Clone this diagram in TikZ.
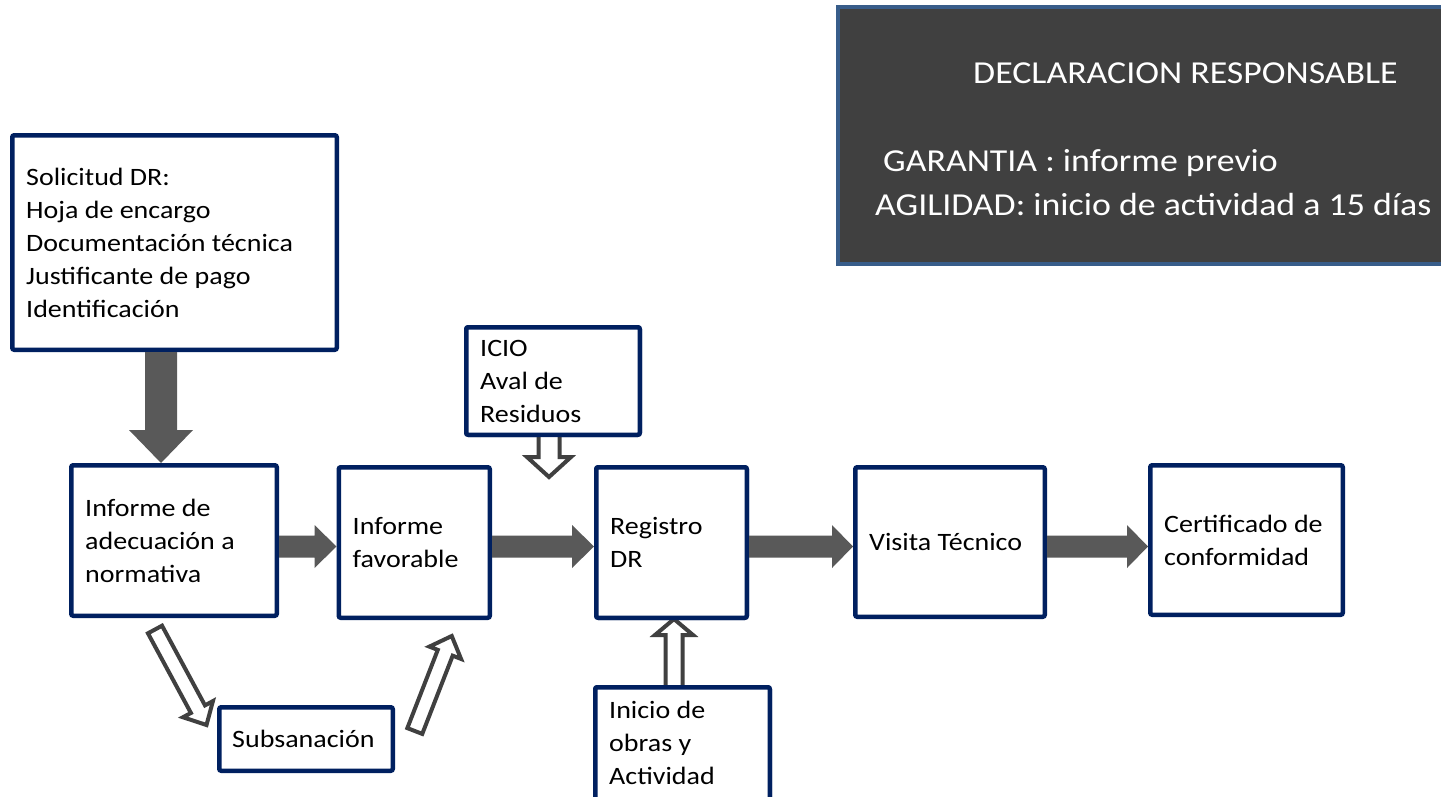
\documentclass[tikz,border=0pt]{standalone}
\usepackage{fontspec}
\setmainfont{Carlito}[FakeStretch=1.12]
\usetikzlibrary{calc}
\definecolor{navy}{RGB}{0,32,96}
\definecolor{steel}{RGB}{56,93,138}
\definecolor{darkfill}{RGB}{64,64,64}
\definecolor{arrowgray}{RGB}{89,89,89}
\definecolor{hollowline}{RGB}{64,64,64}
% #1 style, #2 tail, #3 tip, #4 shaft half width, #5 head half width, #6 head length
\newcommand\blockarrow[6]{%
  \coordinate (ba-h) at ($(#3)!#6!(#2)$);
  \path[#1] ($(#2)!#4!90:(#3)$) -- ($(ba-h)!#4!90:(#3)$) -- ($(ba-h)!#5!90:(#3)$) -- (#3)
    -- ($(ba-h)!#5!-90:(#3)$) -- ($(ba-h)!#4!-90:(#3)$) -- ($(#2)!#4!-90:(#3)$) -- cycle;
}
\tikzset{
  box/.style={draw=navy, line width=4.5pt, fill=white, rounded corners=2pt, inner sep=0pt},
  darkbox/.style={draw=steel, line width=4pt, fill=darkfill, inner sep=0pt},
  txt/.style={inner sep=0pt, anchor=west, align=left, text=black},
  drtxt/.style={inner sep=0pt, anchor=base west, text=white, font=\fontsize{32}{44}\selectfont},
  solidarrow/.style={fill=arrowgray, draw=none},
  hollowarrow/.style={draw=hollowline, fill=white, line width=4pt, line join=miter},
}
\begin{document}
\begin{tikzpicture}[x=1pt, y=-1pt, font=\fontsize{25}{33}\selectfont]
\fill[white] (0,0) rectangle (1441,796);
\useasboundingbox (0,0) rectangle (1441,796);

% dark information panel
\node[darkbox, minimum width=630pt, minimum height=257pt] (drbox) at (1153,135.5) {};
\node[drtxt] (drtitle) at (973,83) {DECLARACION RESPONSABLE};
\node[drtxt] (drg) at (883,171) {GARANTIA : informe previo};
\node[drtxt] (dra) at (875,215.5) {AGILIDAD: inicio de actividad a 15 días};

% box geometry used by hollow arrows (drawn beneath boxes)
\node[box, minimum width=173.5pt, minimum height=107.5pt] (icio) at (553,381) {};
\node[box, minimum width=174.5pt, minimum height=160.5pt] (ini) at (682.5,767.5) {};
\node[box, minimum width=150.5pt, minimum height=150.5pt] (reg) at (671.5,542.5) {};

% hollow arrows
\coordinate (ica) at ($(icio.south)+(-4,-6)$);
\coordinate (icb) at ($(icio.south)+(-4,40)$);
\blockarrow{hollowarrow}{ica}{icb}{10.5pt}{22pt}{20pt}
\coordinate (ina) at ($(ini.north)+(-8.5,6)$);
\coordinate (inb) at ($(reg.south)+(2.5,-1)$);
\blockarrow{hollowarrow}{ina}{inb}{8.5pt}{19pt}{16pt}

% boxes
\node[box, minimum width=324.5pt, minimum height=214.5pt] (sol) at (174.5,242.5) {};
\node[box, minimum width=205.5pt, minimum height=150.5pt] (inf1) at (174,540.5) {};
\node[box, minimum width=151pt, minimum height=150.5pt] (inf2) at (414.25,542.5) {};
\node[box, minimum width=173.5pt, minimum height=107.5pt] at (icio) {};
\node[box, minimum width=174.5pt, minimum height=160.5pt] at (ini) {};
\node[box, minimum width=150.5pt, minimum height=150.5pt] at (reg) {};
\node[box, minimum width=189.5pt, minimum height=149.5pt] (vis) at (950,542) {};
\node[box, minimum width=192.5pt, minimum height=149.5pt] (cert) at (1246.5,540) {};
\node[box, minimum width=173.5pt, minimum height=63.5pt] (subs) at (306,739) {};

% solid arrows
\coordinate (row) at (0,546.5);
\coordinate (v1a) at ($(sol.south)+(-13.5,0)$);
\coordinate (v1b) at ($(inf1.north)+(-13,0)$);
\blockarrow{solidarrow}{v1a}{v1b}{16pt}{32pt}{33pt}
\coordinate (h1a) at (inf1.east |- row);
\coordinate (h1b) at (inf2.west |- row);
\blockarrow{solidarrow}{h1a}{h1b}{11pt}{21.5pt}{22pt}
\coordinate (h2a) at (inf2.east |- row);
\coordinate (h2b) at (reg.west |- row);
\blockarrow{solidarrow}{h2a}{h2b}{11pt}{21.5pt}{22pt}
\coordinate (h3a) at (reg.east |- row);
\coordinate (h3b) at (vis.west |- row);
\blockarrow{solidarrow}{h3a}{h3b}{11pt}{21.5pt}{21pt}
\coordinate (h4a) at (vis.east |- row);
\coordinate (h4b) at (cert.west |- row);
\blockarrow{solidarrow}{h4a}{h4b}{11pt}{21.5pt}{21pt}

% diagonal hollow arrows via Subsanación
\coordinate (d1a) at ($(inf1.south)+(-19,11.5)$);
\coordinate (d1b) at ($(subs.west)+(-10.5,-14)$);
\blockarrow{hollowarrow}{d1a}{d1b}{8pt}{17pt}{18pt}
\coordinate (d2a) at ($(subs.east)+(19.8,-8)$);
\coordinate (d2b) at ($(inf2.south)+(37.5,16)$);
\blockarrow{hollowarrow}{d2a}{d2b}{8pt}{17pt}{18pt}

% texts
\node[txt] (sol-t) at ($(sol.west)+(16,0)$) {Solicitud DR:\\Hoja de encargo\\Documentación técnica\\Justificante de pago\\Identificación};
\node[txt] (inf1-t) at ($(inf1.west)+(16,0)$) {Informe de\\adecuación a\\normativa};
\node[txt] (inf2-t) at ($(inf2.west)+(16,0)$) {Informe\\favorable};
\node[txt] (icio-t) at ($(icio.west)+(16,0)$) {ICIO\\Aval de\\Residuos};
\node[txt] (reg-t) at ($(reg.west)+(16,0)$) {Registro\\DR};
\node[txt] (vis-t) at ($(vis.west)+(16,0)$) {Visita Técnico};
\node[txt] (cert-t) at ($(cert.west)+(16,0)$) {Certificado de\\conformidad};
\node[txt] (subs-t) at ($(subs.west)+(15,0)$) {Subsanación};
\node[txt] (ini-t) at ($(ini.north west)+(16,57.7)$) {Inicio de\\obras y\\Actividad};
\end{tikzpicture}
\end{document}
